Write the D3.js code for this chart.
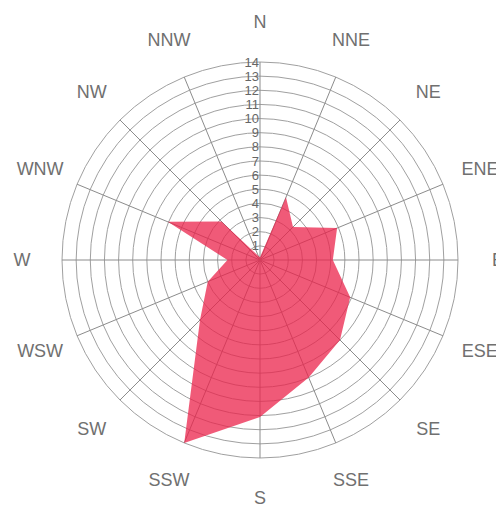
<!DOCTYPE html>
<html>
<head>
<meta charset="utf-8">
<script src="https://cdn.jsdelivr.net/npm/d3@7"></script>
<style>
  html, body { margin: 0; padding: 0; background: #fff; }
  svg { display: block; }
</style>
</head>
<body>
<svg width="496" height="508"></svg>
<script>
const DIRECTIONS = ['N', 'NNE', 'NE', 'ENE', 'E', 'ESE', 'SE', 'SSE', 'S', 'SSW', 'SW', 'WSW', 'W', 'WNW', 'NW', 'NNW'];
const VALUES = [0.2, 4.8, 3.3, 5.9, 5.15, 6.9, 8.0, 9.0, 11.1, 14.0, 6.0, 4.0, 2.3, 7.05, 3.85, 0.3];
const TICKS = [1, 2, 3, 4, 5, 6, 7, 8, 9, 10, 11, 12, 13, 14];

const svg = d3.select('svg');
const cx = 260, cy = 260;
const outer = 198;

const g = svg.append('g').attr('transform', `translate(${cx},${cy})`);

const r = d3.scaleLinear().domain([0, 14]).range([0, outer]);
// angle for each direction, clockwise from north
const angle = d3.scaleLinear()
    .domain([0, DIRECTIONS.length])
    .range([0, 2 * Math.PI]);
const a = d => angle(DIRECTIONS.indexOf(d));

// Grid circles
g.append('g')
  .selectAll('circle')
  .data(TICKS)
  .enter().append('circle')
    .attr('r', d => r(d))
    .attr('fill', 'none')
    .attr('stroke', '#a0a0a0')
    .attr('stroke-width', 1);

// Spokes
g.append('g')
  .selectAll('line')
  .data(DIRECTIONS)
  .enter().append('line')
    .attr('x1', 0)
    .attr('y1', 0)
    .attr('x2', d => outer * Math.sin(a(d)))
    .attr('y2', d => -outer * Math.cos(a(d)))
    .attr('stroke', '#8c8c8c')
    .attr('stroke-width', 1);

// Data area
const radial = d3.lineRadial()
    .angle((d, i) => a(DIRECTIONS[i]))
    .radius(d => r(d))
    .curve(d3.curveLinearClosed);

g.append('path')
    .datum(VALUES)
    .attr('d', radial)
    .attr('fill', 'rgb(235, 35, 75)')
    .attr('fill-opacity', 0.75)
    .attr('stroke', 'none');

// Radial tick labels
g.append('g')
    .attr('font-family', 'Liberation Sans, Arial, sans-serif')
    .attr('font-size', 13)
    .attr('fill', '#666')
    .attr('text-anchor', 'end')
  .selectAll('text')
  .data(TICKS)
  .enter().append('text')
    .attr('x', -1)
    .attr('y', d => -r(d))
    .attr('dy', '0.35em')
    .text(d => d);

// Direction labels
const labelR = 238;
g.append('g')
    .attr('font-family', 'Liberation Sans, Arial, sans-serif')
    .attr('font-size', 18)
    .attr('fill', '#707070')
    .attr('text-anchor', 'middle')
  .selectAll('text')
  .data(DIRECTIONS)
  .enter().append('text')
    .attr('x', d => labelR * Math.sin(a(d)))
    .attr('y', d => -labelR * Math.cos(a(d)))
    .attr('dy', '0.35em')
    .text(d => d);
</script>
</body>
</html>
